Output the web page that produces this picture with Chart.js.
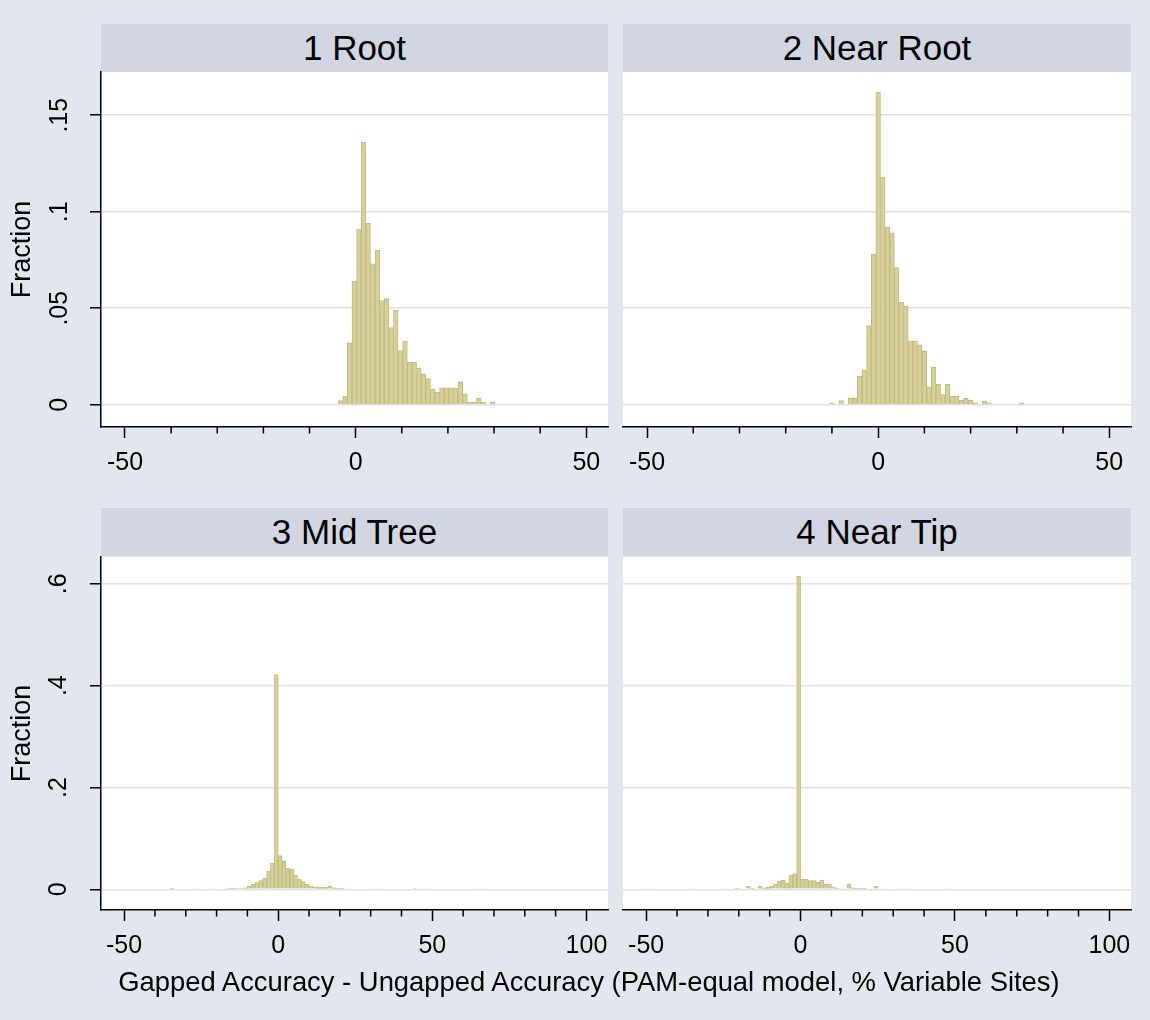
<!DOCTYPE html>
<html>
<head>
<meta charset="utf-8">
<script src="https://cdn.jsdelivr.net/npm/chart.js@4.4.1/dist/chart.umd.min.js"></script>
<style>
body { margin: 0; background: #e2e6ef; font-family: "Liberation Sans", Arial, sans-serif; }
#fig { position: relative; width: 1150px; height: 1020px; }
.hdr { position: absolute; height: 48px; line-height: 48px; background: #d1d6e2; font-size: 35px; text-align: center; color: #000; }
.box { position: absolute; }
#xtitle { position: absolute; left: 0; width: 1178px; top: 966px; line-height: 32px; text-align: center; font-size: 27.4px; color: #000; }
</style>
</head>
<body>
<div id="fig">
  <div class="hdr" style="left:101px;top:24px;width:507px">1 Root</div>
  <div class="hdr" style="left:623px;top:24px;width:508px">2 Near Root</div>
  <div class="hdr" style="left:101px;top:508px;width:507px">3 Mid Tree</div>
  <div class="hdr" style="left:623px;top:508px;width:508px">4 Near Tip</div>
  <div class="box" style="left:0;top:62px;width:612px;height:430px"><canvas id="c1"></canvas></div>
  <div class="box" style="left:612px;top:62px;width:524px;height:430px"><canvas id="c2"></canvas></div>
  <div class="box" style="left:0;top:547px;width:612px;height:428px"><canvas id="c3"></canvas></div>
  <div class="box" style="left:612px;top:547px;width:524px;height:428px"><canvas id="c4"></canvas></div>
  <div id="xtitle">Gapped Accuracy - Ungapped Accuracy (PAM-equal model, % Variable Sites)</div>
</div>
<script>
// bin centres and fractions
const rootX = [-3.3, -2.3, -1.3, -0.3, 0.7, 1.7, 2.7, 3.7, 4.7, 5.7, 6.7, 7.7, 8.7, 9.7, 10.7, 11.7, 12.7,
  13.7, 14.7, 15.7, 16.7, 17.7, 18.7, 19.7, 20.7, 21.7, 22.7, 23.7, 24.7, 25.7, 26.7, 27.7, 28.7, 29.7];
const rootY = [0.0022, 0.0045, 0.032, 0.064, 0.091, 0.136, 0.094, 0.073, 0.080, 0.054, 0.055, 0.040, 0.049,
  0.028, 0.033, 0.022, 0.022, 0.019, 0.016, 0.0135, 0.008, 0.0064, 0.0087, 0.0087, 0.0087, 0.0085, 0.0118,
  0.0056, 0.0014, 0.0014, 0.0035, 0.0012, 0, 0.0014];

const nearRootX = [-10, -8, -6, -5, -4, -3, -2, -1, 0, 1, 2, 3, 4, 5, 6, 7, 8, 9, 10, 11, 12, 13, 14, 15,
  16, 17, 18, 19, 20, 21, 23, 24, 31];
const nearRootY = [0.001, 0.0022, 0.0036, 0.0036, 0.0148, 0.018, 0.041, 0.078, 0.162, 0.118, 0.092, 0.089,
  0.071, 0.053, 0.051, 0.033, 0.033, 0.031, 0.0276, 0.0093, 0.0194, 0.0105, 0.0052, 0.0105, 0.0044, 0.0044,
  0.0023, 0.0035, 0.0023, 0.001, 0.0019, 0.001, 0.001];

const midX = [-34.375, -25.625, -20.625, -16.875, -15.625, -14.375, -13.125, -11.875, -10.625, -9.375,
  -8.125, -6.875, -5.625, -4.375, -3.125, -1.875, -0.625, 0.625, 1.875, 3.125, 4.375, 5.625, 6.875, 8.125,
  9.375, 10.625, 11.875, 13.125, 14.375, 15.625, 16.875, 18.125, 19.375, 20.625, 21.875, 31.875, 44.375,
  49.375, 65.625];
const midY = [0.002, 0.0015, 0.0015, 0.0015, 0.002, 0.002, 0.0025, 0.0025, 0.003, 0.0065, 0.0098, 0.013,
  0.017, 0.022, 0.036, 0.051, 0.422, 0.066, 0.0555, 0.041, 0.039, 0.028, 0.0196, 0.015, 0.0098, 0.0065,
  0.005, 0.004, 0.004, 0.0045, 0.0065, 0.003, 0.002, 0.002, 0.0015, 0.0015, 0.0012, 0.0015, 0.0015];

const tipX = [-49.375, -34.375, -25.625, -20.625, -16.875, -15.625, -13.125, -11.875, -10.625, -9.375,
  -8.125, -6.875, -5.625, -4.375, -3.125, -1.875, -0.625, 0.625, 1.875, 3.125, 4.375, 5.625, 6.875, 8.125,
  9.375, 10.625, 11.875, 15.625, 16.875, 18.125, 19.375, 20.625, 24.375, 25.625, 31.875, 35.625, 48.125];
const tipY = [0.0015, 0.0015, 0.0015, 0.002, 0.0065, 0.002, 0.0065, 0.003, 0.004, 0.0065, 0.0098, 0.016,
  0.018, 0.012, 0.028, 0.031, 0.615, 0.0196, 0.0196, 0.017, 0.017, 0.0137, 0.018, 0.0098, 0.0105, 0.005,
  0.002, 0.0105, 0.003, 0.002, 0.002, 0.002, 0.0065, 0.0015, 0.0015, 0.0015, 0.0015];

// axis ticks
const topXTicks = [-50, 0, 50];
const topXMinor = [-40, -30, -20, -10, 10, 20, 30, 40];
const botXTicks = [-50, 0, 50, 100];
const botXMinor = [-40, -30, -20, -10, 10, 20, 30, 40, 60, 70, 80, 90];
const topYTicks = [0, 0.05, 0.1, 0.15];
const botYTicks = [0, 0.2, 0.4, 0.6];

const fontFam = '"Liberation Sans", Arial, sans-serif';
const barFill = 'rgb(214,207,153)';
const barEdge = 'rgb(195,186,128)';
const gridCol = 'rgb(222,225,232)';

function panel(id, xs, ys, o) {
  const deco = {
    id: 'deco',
    beforeDraw(chart) {
      const a = chart.chartArea, ctx = chart.ctx;
      ctx.save();
      ctx.fillStyle = '#fff';
      ctx.fillRect(a.left, a.top, a.right - a.left, a.bottom - a.top);
      ctx.restore();
    },
    afterDraw(chart) {
      const sx = chart.scales.x, ctx = chart.ctx, y0 = chart.chartArea.bottom;
      ctx.save();
      ctx.strokeStyle = '#000';
      ctx.lineWidth = 1.5;
      o.minor.forEach(v => {
        const px = sx.getPixelForValue(v);
        ctx.beginPath();
        ctx.moveTo(px, y0);
        ctx.lineTo(px, y0 + 6.5);
        ctx.stroke();
      });
      ctx.restore();
    }
  };
  return new Chart(document.getElementById(id), {
    type: 'bar',
    data: {
      datasets: [{
        data: xs.map((x, i) => ({ x: x, y: ys[i] })),
        backgroundColor: barFill,
        borderColor: barEdge,
        borderWidth: 1,
        barPercentage: 1,
        categoryPercentage: 1
      }]
    },
    options: {
      responsive: true,
      maintainAspectRatio: false,
      animation: false,
      layout: { padding: { top: 10, right: o.padRight, left: 0, bottom: 0 } },
      plugins: { legend: { display: false }, tooltip: { enabled: false } },
      scales: {
        x: {
          type: 'linear',
          offset: false,
          min: o.xMin,
          max: o.xMax,
          afterBuildTicks: s => { s.ticks = o.xTicks.map(v => ({ value: v })); },
          afterFit: s => { s.height = 65; s.paddingLeft = 0; s.paddingRight = 0; },
          grid: { offset: false, drawOnChartArea: false, drawTicks: true, tickLength: 11, tickColor: '#000', tickWidth: 1.5 },
          border: { display: true, color: '#000', width: 1.5 },
          ticks: { color: '#000', font: { family: fontFam, size: 25 }, padding: 10, maxRotation: 0, autoSkip: false }
        },
        y: {
          type: 'linear',
          min: o.yMin,
          max: o.yMax,
          afterBuildTicks: s => { s.ticks = o.yTicks.map(v => ({ value: v })); },
          afterFit: s => { s.width = o.yWidth; s.paddingTop = 0; s.paddingBottom = 0; },
          grid: { color: gridCol, lineWidth: 1.5, drawTicks: o.showY, tickLength: 11, tickColor: '#000', tickWidth: 1.5 },
          border: { display: o.showY, color: '#000', width: 1.5 },
          ticks: {
            display: o.showY,
            color: '#000',
            font: { family: fontFam, size: 25 },
            minRotation: 90,
            maxRotation: 90,
            crossAlign: 'center',
            padding: o.yPad,
            autoSkip: false,
            callback: v => v === 0 ? '0' : String(v).replace(/^0\./, '.')
          },
          title: {
            display: o.showY,
            text: 'Fraction',
            color: '#000',
            font: { family: fontFam, size: 27 },
            padding: { top: 6, bottom: 0 }
          }
        }
      }
    },
    plugins: [deco]
  });
}

const topRange = { xMin: -55.2, xMax: 54.7, xTicks: topXTicks, minor: topXMinor, yMin: -0.01155, yMax: 0.1724, yTicks: topYTicks };
const botRange = { xMin: -57.5, xMax: 107, xTicks: botXTicks, minor: botXMinor, yMin: -0.0407, yMax: 0.6528, yTicks: botYTicks };

panel('c1', rootX, rootY, Object.assign({}, topRange, { showY: true, yWidth: 101, yPad: 13, padRight: 4 }));
panel('c2', nearRootX, nearRootY, Object.assign({}, topRange, { showY: false, yWidth: 11, yPad: 0, padRight: 5 }));
panel('c3', midX, midY, Object.assign({}, botRange, { showY: true, yWidth: 101, yPad: 20, padRight: 4 }));
panel('c4', tipX, tipY, Object.assign({}, botRange, { showY: false, yWidth: 11, yPad: 0, padRight: 5 }));
</script>
</body>
</html>
